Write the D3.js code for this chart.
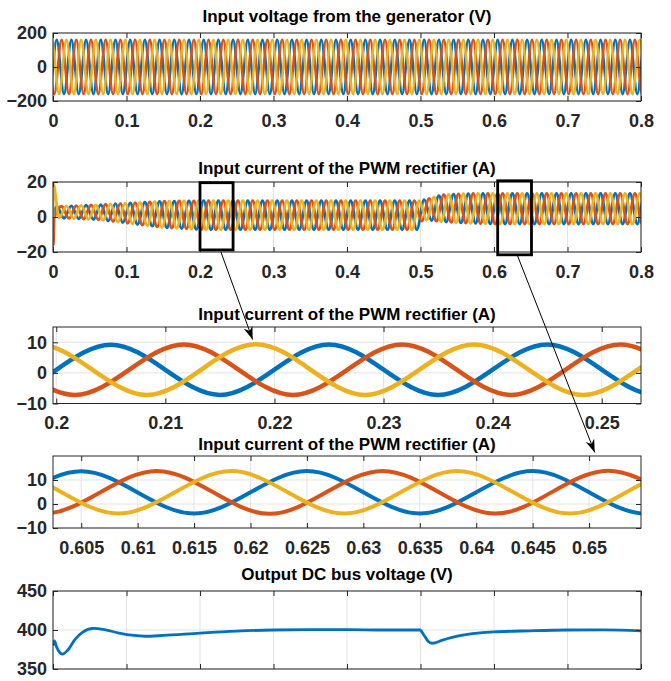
<!DOCTYPE html>
<html>
<head>
<meta charset="utf-8">
<script src="https://cdn.jsdelivr.net/npm/d3@7"></script>
<style>
  body { margin: 0; background: #fff; }
  svg text { font-family: "Liberation Sans", Arial, Helvetica, sans-serif; font-weight: bold; }
</style>
</head>
<body>
<svg width="671" height="681"></svg>
<script>
// ---- values ----
var phaseColors = ["#0072BD", "#D95319", "#EDB120"];
var period = 0.02;                          // 50 Hz
var firstPeak = [0.005, 0.0117, 0.0183];    // first positive peak of each phase (s)

// generator voltage: constant peak value of each phase
var voltPeak = [160, 160, 160];

// rectifier current: envelope of the peaks (upper / lower) over time
var envTime  = [0,    0.005, 0.03, 0.06, 0.1,  0.15, 0.2,  0.5,  0.502, 0.515, 0.53, 0.56, 0.6,  0.8];
var envUpper = [6,    6,     6.5,  7,    8,    9,    9.3,  9.3,  9.6,   11,    12.8, 13.4, 13.5, 13.5];
var envLower = [-0.5, -0.5,  -1,   -1.5, -3.5, -6,   -7.2, -7.2, -1.5,  -2,    -2.8, -3.5, -4,   -4];
// start-up spike of the current
var startTime  = [[0], [0, 0.0005], [0, 0.0005]];
var startValue = [[1], [0, -16],    [0, 19]];

// zoom 1 (0.2 s ... 0.254 s): peaks and troughs of each phase
var zoom1Time = [
  [0.185, 0.195, 0.205, 0.215, 0.225, 0.235, 0.245, 0.255, 0.265],
  [0.1817, 0.1917, 0.2017, 0.2117, 0.2217, 0.2317, 0.2417, 0.2517, 0.2617, 0.2717],
  [0.1883, 0.1983, 0.2083, 0.2183, 0.2283, 0.2383, 0.2483, 0.2583, 0.2683]
];
var zoom1Value = [
  [9.2, -7.2, 9.2, -7.2, 9.3, -7.2, 9.3, -7.2, 9.3],
  [-7.2, 9.2, -7.2, 9.3, -7.2, 9.3, -7.2, 9.3, -7.2, 9.3],
  [-7.2, 9.3, -7.2, 9.4, -7.2, 9.3, -7.2, 9.3, -7.2]
];

// zoom 2 (0.6025 s ... 0.6545 s)
var zoom2Time = [
  [0.585, 0.595, 0.605, 0.615, 0.625, 0.635, 0.645, 0.655, 0.665],
  [0.5917, 0.6017, 0.6117, 0.6217, 0.6317, 0.6417, 0.6517, 0.6617, 0.6717],
  [0.5883, 0.5983, 0.6083, 0.6183, 0.6283, 0.6383, 0.6483, 0.6583, 0.6683]
];
var zoom2Value = [
  [13.6, -4, 13.6, -4, 13.7, -4, 13.7, -4, 13.7],
  [13.6, -4, 13.8, -4.1, 13.8, -4, 13.9, -4, 13.9],
  [-4, 13.6, -4, 13.7, -4, 13.7, -4, 13.7, -4]
];

// output DC bus voltage
var dcTime  = [0,   0.002, 0.005, 0.013, 0.02, 0.03, 0.04, 0.055, 0.07, 0.09, 0.11, 0.125, 0.15, 0.2, 0.25,  0.3, 0.35,  0.4,   0.45, 0.499, 0.505, 0.51, 0.516, 0.53, 0.55, 0.6,   0.65, 0.7, 0.75,  0.8];
var dcValue = [380, 386,   378,   369,   374,  388,  397,  402,   400.5, 396, 393,  392,   393,  396, 398.5, 400, 400.5, 400.5, 400,  400,   393,   386,  383,   387,  392,  397.5, 399,  400, 400.2, 399];

// tick values
var timeTicks  = [0, 0.1, 0.2, 0.3, 0.4, 0.5, 0.6, 0.7, 0.8];
var zoom1Ticks = [0.2, 0.21, 0.22, 0.23, 0.24, 0.25];
var zoom2Ticks = [0.605, 0.61, 0.615, 0.62, 0.625, 0.63, 0.635, 0.64, 0.645, 0.65];
var voltTicks  = [-200, 0, 200];
var currTicks  = [-20, 0, 20];
var zoomTicks  = [-10, 0, 10];
var dcTicks    = [350, 400, 450];

// zoom boxes on the current panel: [t0, t1, iLow, iHigh]
var boxes = [[0.2, 0.245, -18.8, 19.6], [0.605, 0.651, -21.6, 20.7]];

// ---- layout ----
var left = 53, right = 641;
var axisColor = "#262626", gridColor = "#e3e3e3";
var svg = d3.select("svg");
var defs = svg.append("defs");

var panels = [
  {title: "Input voltage from the generator (V)", titleY: 16, top: 33, bottom: 101,
   xDomain: [0, 0.8], xTicks: timeTicks, yDomain: [-200, 200], yTicks: voltTicks, labels: true},
  {title: "Input current of the PWM rectifier (A)", titleY: 168, top: 182, bottom: 252,
   xDomain: [0, 0.8], xTicks: timeTicks, yDomain: [-20, 20], yTicks: currTicks, labels: true},
  {title: "Input current of the PWM rectifier (A)", titleY: 314, top: 327, bottom: 403.5,
   xDomain: [0.1997, 0.2536], xTicks: zoom1Ticks, yDomain: [-10, 15], yTicks: zoomTicks, labels: true},
  {title: "Input current of the PWM rectifier (A)", titleY: 444, top: 456, bottom: 528,
   xDomain: [0.6025, 0.6546], xTicks: zoom2Ticks, yDomain: [-10, 20], yTicks: zoomTicks, labels: true},
  {title: "Output DC bus voltage (V)", titleY: 574, top: 591, bottom: 669,
   xDomain: [0, 0.8], xTicks: timeTicks, yDomain: [350, 450], yTicks: dcTicks, labels: false}
];

var fmt = d3.format("~g");

panels.forEach(function(p, i) {
  p.x = d3.scaleLinear().domain(p.xDomain).range([left, right]);
  p.y = d3.scaleLinear().domain(p.yDomain).range([p.bottom, p.top]);
  p.g = svg.append("g");

  var grid = p.g.append("g").attr("stroke", gridColor).attr("stroke-width", 1);
  grid.selectAll(".gx").data(p.xTicks).join("line")
    .attr("x1", d => p.x(d)).attr("x2", d => p.x(d))
    .attr("y1", p.top).attr("y2", p.bottom);
  grid.selectAll(".gy").data(p.yTicks).join("line")
    .attr("x1", left).attr("x2", right)
    .attr("y1", d => p.y(d)).attr("y2", d => p.y(d));

  defs.append("clipPath").attr("id", "clip" + i)
    .append("rect").attr("x", left).attr("y", p.top)
    .attr("width", right - left).attr("height", p.bottom - p.top);
  p.plot = p.g.append("g").attr("clip-path", "url(#clip" + i + ")").attr("fill", "none");

  p.g.append("text").attr("x", (left + right) / 2).attr("y", p.titleY + 6)
    .attr("text-anchor", "middle").attr("font-size", 17).attr("fill", "#000")
    .text(p.title);
});

function drawLine(p, pts, color, width) {
  var line = d3.line().x(d => p.x(d[0])).y(d => p.y(d[1])).curve(d3.curveMonotoneX);
  p.plot.append("path").datum(pts).attr("d", line)
    .attr("stroke", color).attr("stroke-width", width).attr("stroke-linejoin", "round");
}

// peaks and troughs of one phase, alternating upper / lower value
function peakTrain(k, upper, lower, t0, t1) {
  var pts = [];
  for (var n = -6; ; n++) {
    var t = firstPeak[k] + n * period / 2;
    if (t > t1 + period) break;
    if (t < t0) continue;
    pts.push([t, n % 2 === 0 ? upper(t) : lower(t)]);
  }
  return pts;
}

// panel 1: generator voltage
phaseColors.forEach(function(c, k) {
  var pts = peakTrain(k, () => voltPeak[k], () => -voltPeak[k], -0.03, 0.8);
  drawLine(panels[0], pts, c, 2.6);
});

// panel 2: rectifier current
var hiScale = d3.scaleLinear().domain(envTime).range(envUpper).clamp(true);
var loScale = d3.scaleLinear().domain(envTime).range(envLower).clamp(true);
phaseColors.forEach(function(c, k) {
  var st = startTime[k].map((t, j) => [t, startValue[k][j]]);
  var tFrom = startTime[k][startTime[k].length - 1] + 0.001;
  var pts = st.concat(peakTrain(k, hiScale, loScale, tFrom, 0.8));
  drawLine(panels[1], pts, c, 2.8);
});

// panels 3 and 4: zoomed currents
phaseColors.forEach(function(c, k) {
  drawLine(panels[2], zoom1Time[k].map((t, j) => [t, zoom1Value[k][j]]), c, 4.5);
  drawLine(panels[3], zoom2Time[k].map((t, j) => [t, zoom2Value[k][j]]), c, 4);
});

// panel 5: DC bus
drawLine(panels[4], dcTime.map((t, j) => [t, dcValue[j]]), phaseColors[0], 2.8);

// axes, ticks and box
panels.forEach(function(p) {
  var ax = p.g.append("g");
  ax.append("g").attr("transform", "translate(0," + p.bottom + ")")
    .call(d3.axisBottom(p.x).tickValues(p.xTicks).tickSize(-5).tickPadding(13)
      .tickFormat(p.labels ? fmt : ""));
  ax.append("g").attr("transform", "translate(0," + p.top + ")")
    .call(d3.axisTop(p.x).tickValues(p.xTicks).tickSize(-5).tickFormat(""));
  ax.append("g").attr("transform", "translate(" + left + ",0)")
    .call(d3.axisLeft(p.y).tickValues(p.yTicks).tickSize(-5).tickPadding(6).tickFormat(fmt));
  ax.append("g").attr("transform", "translate(" + right + ",0)")
    .call(d3.axisRight(p.y).tickValues(p.yTicks).tickSize(-5).tickFormat(""));
  ax.selectAll(".domain").remove();
  ax.selectAll("g").attr("font-family", null).attr("font-size", null);
  ax.selectAll(".tick line").attr("stroke", axisColor);
  ax.selectAll(".tick text").attr("font-size", 18).attr("fill", axisColor);
  ax.append("rect").attr("x", left).attr("y", p.top)
    .attr("width", right - left).attr("height", p.bottom - p.top)
    .attr("fill", "none").attr("stroke", axisColor).attr("stroke-width", 1);
});

// zoom boxes on the current panel
var pc = panels[1];
svg.append("g").selectAll("rect").data(boxes).join("rect")
  .attr("x", d => pc.x(d[0])).attr("width", d => pc.x(d[1]) - pc.x(d[0]))
  .attr("y", d => pc.y(d[3])).attr("height", d => pc.y(d[2]) - pc.y(d[3]))
  .attr("fill", "none").attr("stroke", "#000").attr("stroke-width", 2.8);

// arrows from the boxes to the zoomed panels
defs.append("marker").attr("id", "head")
  .attr("viewBox", "-13 -5 14 10").attr("refX", 0).attr("refY", 0)
  .attr("markerWidth", 14).attr("markerHeight", 10)
  .attr("markerUnits", "userSpaceOnUse").attr("orient", "auto")
  .append("path").attr("d", "M0,0L-13,-4.5L-9,0L-13,4.5Z").attr("fill", "#000");

var arrows = [
  {from: [1, 0.2285, -20], to: [2, 0.218, 10.9]},
  {from: [1, 0.6315, -21.6], to: [3, 0.6505, 21.5]}
];
svg.append("g").selectAll("line").data(arrows).join("line")
  .attr("x1", d => panels[d.from[0]].x(d.from[1])).attr("y1", d => panels[d.from[0]].y(d.from[2]))
  .attr("x2", d => panels[d.to[0]].x(d.to[1])).attr("y2", d => panels[d.to[0]].y(d.to[2]))
  .attr("stroke", "#000").attr("stroke-width", 1).attr("marker-end", "url(#head)");
</script>
</body>
</html>
